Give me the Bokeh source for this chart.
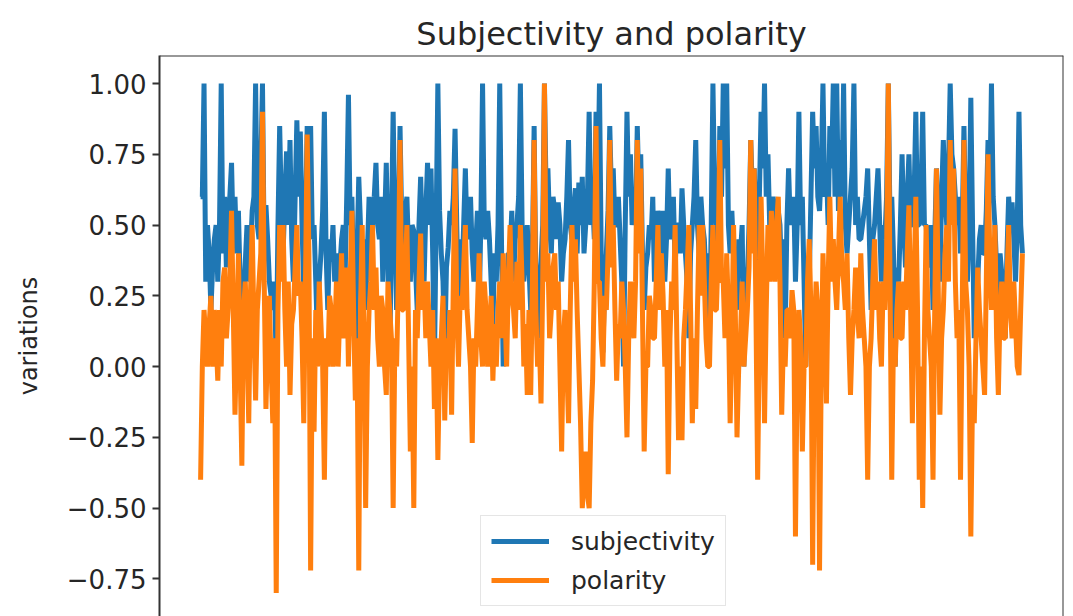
from bokeh.plotting import figure
from bokeh.models import (Range1d, FixedTicker, Legend, LegendItem, Span)
from bokeh.embed import file_html
from bokeh.resources import INLINE

title_text = "Subjectivity and polarity"
y_label = "variations"
series_names = ["subjectivity", "polarity"]
y_ticks = [-0.75, -0.5, -0.25, 0.0, 0.25, 0.5, 0.75, 1.0]
y_tick_labels = ["\u22120.75", "\u22120.50", "\u22120.25", "0.00", "0.25", "0.50", "0.75", "1.00"]

subjectivity = [
    0.6, 0.6, 1.0, 0.3, 0.5, 0.4, 0.2, 0.35, 0.45, 0.5, 0.3, 0.5, 1.0, 0.4, 0.6, 0.35, 0.5, 0.6, 0.72, 0.45,
    0.6, 0.4, 0.55, 0.3, 0.0, 0.25, 0.37, 0.5, 0.3, 0.4, 0.55, 0.6, 1.0, 0.5, 0.45, 0.7, 1.0, 0.4, 0.57, 0.45,
    0.3, 0.25, 0.2, 0.3, 0.0, 0.5, 0.85, 0.55, 0.4, 0.6, 0.76, 0.5, 0.8, 0.45, 0.3, 0.6, 0.87, 0.6, 0.83, 0.5,
    0.27, 0.5, 0.85, 0.6, 0.85, 0.45, 0.5, 0.3, 0.09, 0.3, 0.4, 0.55, 0.9, 0.4, 0.2, 0.45, 0.37, 0.5, 0.3, 0.4,
    0.1, 0.35, 0.45, 0.5, 0.3, 0.6, 0.96, 0.5, 0.6, 0.3, 0.0, 0.4,
    0.67, 0.5, 0.3, 0.45, 0.2, 0.4, 0.6, 0.45, 0.5, 0.6, 0.72, 0.5, 0.45, 0.6, 0.3, 0.5, 0.72, 0.4, 0.0, 0.5,
    0.9, 0.5, 0.2, 0.45, 0.85, 0.5, 0.4, 0.55, 0.6, 0.4, 0.3, 0.5, 0.48, 0.35, 0.2, 0.5, 0.67, 0.45, 0.3, 0.55,
    0.72, 0.5, 0.7, 0.4, 0.0, 0.5, 1.0, 0.55, 0.4, 0.3, 0.05, 0.35, 0.42, 0.55, 0.5, 0.6, 0.84, 0.5, 0.2, 0.45,
    0.3, 0.5, 0.7, 0.45, 0.5, 0.6, 0.4, 0.3, 0.42, 0.55, 0.2, 0.5, 1.0, 0.5, 0.45, 0.55, 0.45, 0.3, 0.15, 0.4,
    0.3, 0.5, 1.0, 0.45, 0.0, 0.3, 0.2, 0.4, 0.4, 0.55, 0.3, 0.45, 0.5, 0.6, 1.0, 0.5, 0.3, 0.4, 0.5, 0.35,
    0.2, 0.4, 0.85, 0.3, 0.1, 0.3, 0.37, 0.5, 1.0, 0.6, 0.7, 0.5, 0.4, 0.6, 0.55, 0.45, 0.58, 0.5, 0.3, 0.4,
    0.45, 0.6, 0.8, 0.5, 0.45, 0.55, 0.63, 0.4, 0.65, 0.5, 0.67, 0.4, 0.5, 0.6, 0.9, 0.5, 0.6, 0.45, 0.9, 0.6,
    1.0, 0.4, 0.05, 0.3, 0.4, 0.55, 0.85, 0.6, 0.7, 0.5, 0.5, 0.6, 0.45, 0.3, 0.0, 0.5, 0.9, 0.6, 0.75, 0.5,
    0.6, 0.5, 0.85, 0.6, 0.75, 0.4, 0.2, 0.35, 0.4, 0.5, 0.45, 0.6, 0.3, 0.45, 0.55, 0.5, 0.4, 0.55, 0.3, 0.45,
    0.7, 0.45, 0.5, 0.6, 0.35, 0.5, 0.5, 0.4, 0.63, 0.5, 0.4, 0.3, 0.1, 0.4, 0.5, 0.6,
    0.8, 0.5, 0.4, 0.6, 0.5, 0.45, 0.3, 0.4, 0.1, 0.5, 1.0, 0.6, 0.5, 0.4, 0.85, 0.6, 1.0, 0.7, 1.0, 0.5,
    0.4, 0.55, 0.4, 0.3, 0.2, 0.45, 0.4, 0.5, 0.0, 0.35, 0.3, 0.5, 0.8, 0.6, 0.7, 0.5, 0.3, 0.6, 0.9, 0.7,
    1.0, 0.6, 0.75, 0.5, 0.55, 0.6, 0.55, 0.45, 0.55, 0.5, 0.3, 0.45, 0.1, 0.5, 0.7, 0.5, 0.55, 0.6, 0.3, 0.5,
    0.9, 0.5, 0.6, 0.3, 0.0, 0.35, 0.3, 0.6, 0.9, 0.7, 0.85, 0.6, 0.55, 0.7, 1.0, 0.6, 0.7, 0.5, 0.85, 0.7,
    1.0, 0.6, 1.0, 0.55, 0.8, 0.6, 1.0, 0.5, 0.4, 0.5, 0.6, 0.7,
    1.0, 0.5, 0.6, 0.45, 0.45, 0.5, 0.55, 0.6, 0.7, 0.45, 0.2, 0.45, 0.5, 0.6, 0.7, 0.5, 0.3, 0.5, 0.45, 0.6,
    1.0, 0.5, 0.6, 0.4, 0.0, 0.35, 0.3, 0.5, 0.75, 0.5, 0.35, 0.6, 0.75, 0.5, 0.5, 0.6, 0.9, 0.5, 0.5, 0.6,
    0.9, 0.5, 0.5, 0.4, 0.35, 0.5, 0.2, 0.45, 0.7, 0.5, 0.3, 0.6, 0.8, 0.6, 0.5, 0.7, 1.0, 0.75, 0.7, 0.6,
    0.5, 0.6, 0.4, 0.5, 0.85, 0.5, 0.3, 0.5, 0.95, 0.5, 0.1, 0.3, 0.3, 0.45, 0.5, 0.4, 0.4, 0.55, 0.8, 0.6,
    1.0, 0.6, 0.5, 0.35, 0.2, 0.4, 0.33, 0.25, 0.1, 0.4, 0.6, 0.5, 0.58, 0.45, 0.3, 0.5, 0.9, 0.5, 0.4,
]

polarity = [
    -0.4, 0.0, 0.2, 0.1, 0.0, 0.15, 0.25, 0.0, 0.2, 0.1, -0.05, 0.2, 0.0, 0.3, 0.35, 0.1, 0.2, 0.3, 0.55, 0.2,
    -0.17, 0.1, 0.4, 0.0, -0.35, 0.2, 0.3, 0.1, -0.2, 0.25, 0.5, 0.15, -0.12, 0.2, 0.3, 0.4, 0.9, 0.3, -0.15, 0.1,
    0.25, 0.0, -0.2, 0.1, -0.8, 0.2, 0.5, 0.3, 0.5, 0.2, 0.0, 0.3, -0.1, 0.15, 0.2, 0.35, 0.5, 0.25, 0.3, 0.1,
    -0.2, 0.3, 0.82, 0.4, -0.72, 0.1, -0.23, 0.2, 0.0, 0.3, 0.15, 0.0, -0.4, 0.1, 0.0, 0.25, 0.2, 0.0, 0.1, 0.3,
    0.0, 0.2, 0.4, 0.1, 0.2, 0.35, 0.0, 0.3, 0.55, 0.2, -0.12, 0.1,
    -0.72, 0.2, 0.5, 0.1, -0.5, 0.0, 0.2, 0.3, 0.5, 0.2, 0.35, 0.1, 0.0, 0.25, 0.2, 0.0, -0.1, 0.3, 0.2, 0.1,
    -0.5, 0.1, 0.0, 0.3, 0.8, 0.2, 0.2, 0.35, 0.5, 0.1, -0.3, 0.0, -0.5, 0.2, 0.1, 0.3, 0.47, 0.2, 0.3, 0.1,
    0.3, 0.15, 0.0, 0.2, -0.15, 0.1, -0.33, 0.0, 0.1, 0.25, -0.19, 0.1, 0.0, 0.2, -0.17, 0.3, 0.7, 0.2, 0.0, 0.25,
    0.2, 0.35, 0.5, 0.2, 0.1, 0.0, -0.27, 0.1, 0.0, 0.2, 0.4, 0.1, 0.0, 0.3, 0.2, 0.0, 0.1, 0.25, -0.05, 0.15,
    0.0, 0.2, 0.3, 0.1, 0.4, 0.2, 0.0, 0.3, 0.5, 0.25, 0.2, 0.1, 0.37, 0.2, 0.5, 0.3, 0.0, 0.15, -0.1, 0.2,
    -0.1, 0.3, 0.8, 0.2, 0.0, 0.1, -0.13, 0.3, 1.0, 0.3, 0.4, 0.1, 0.2, 0.35, 0.4, 0.2, 0.3, 0.0, -0.3, 0.1,
    0.2, 0.0, -0.2, 0.2, 0.5, 0.3, 0.45, 0.2, 0.0, -0.2, -0.5, -0.4, -0.3, -0.45, -0.5, -0.2, -0.05, 0.3, 0.85, 0.3,
    0.3, 0.1, 0.0, 0.25, 0.2, 0.4, 0.8, 0.35, 0.5, 0.2, -0.05, 0.15, 0.1, 0.3, 0.2, 0.0, -0.25, 0.1, 0.3, 0.2,
    0.1, 0.3, 0.8, 0.4, 0.7, 0.2, -0.3, 0.0, 0.0, 0.25, 0.2, 0.1, 0.1, 0.3, 0.5, 0.2, 0.4, 0.25, 0.0, 0.2,
    -0.38, 0.1, 0.3, 0.2, 0.5, 0.1, -0.26, 0.0, -0.26, 0.1, 0.2, 0.35, 0.5, 0.2, -0.2, 0.1,
    -0.15, 0.2, 0.5, 0.25, 0.5, 0.3, 0.1, 0.0, 0.0, 0.3, 0.5, 0.2, 0.2, 0.4, 0.8, 0.3, 0.3, 0.1, 0.4, 0.2,
    -0.2, 0.1, 0.5, 0.2, -0.25, 0.0, 0.1, 0.3, 0.0, 0.1, 0.2, 0.35, 0.8, 0.4, 0.7, 0.2, -0.4, 0.1, 0.6, 0.3,
    -0.2, 0.2, 0.5, 0.3, 0.55, 0.4, 0.3, 0.5, 0.6, 0.3, -0.17, 0.1, 0.0, 0.2, 0.2, 0.1, 0.27, 0.2, -0.6, 0.0,
    0.2, 0.1, -0.3, 0.0, 0.0, 0.3, 0.45, 0.2, -0.7, 0.1, 0.3, 0.2, -0.72, 0.0, 0.4, 0.2, -0.13, 0.3, 0.6, 0.3,
    0.45, 0.3, 0.2, 0.4, 0.6, 0.35, 0.3, 0.2, 0.4, 0.1, -0.1, 0.1,
    0.2, 0.35, 0.2, 0.1, 0.4, 0.2, 0.1, 0.0, -0.4, 0.0, 0.1, 0.3, 0.45, 0.2, 0.3, 0.1, 0.0, 0.3, 0.2, 0.4,
    1.0, 0.3, -0.4, 0.1, 0.0, 0.2, 0.3, 0.1, 0.1, 0.3, 0.2, 0.4, 0.57, 0.2, -0.2, 0.3, 0.6, 0.2, -0.4, 0.0,
    -0.5, 0.1, 0.5, 0.2, 0.1, 0.0, -0.4, 0.2, 0.7, 0.3, -0.17, 0.1, 0.2, 0.4, 0.5, 0.3, 0.8, 0.5, 0.7, 0.3,
    0.1, 0.2, -0.4, 0.2, 0.8, 0.3, 0.2, 0.0, -0.6, -0.1, -0.2, 0.1, 0.35, 0.2, 0.1, 0.0, -0.1, 0.3, 0.75, 0.4,
    0.2, 0.3, 0.5, 0.1, -0.1, 0.2, 0.3, 0.1, 0.1, 0.3, 0.5, 0.2, 0.1, 0.3, 0.15, 0.0, -0.03, 0.2, 0.4,
]

n = min(len(subjectivity), len(polarity))
subjectivity = subjectivity[:n]
polarity = polarity[:n]
idx = list(range(n))
span = n - 1

FONT = "DejaVu Sans"
TEXT = "#262626"

p = figure(
    frame_width=904, frame_height=561,
    output_backend="svg", toolbar_location=None,
    x_range=Range1d(-0.05 * span, span * 1.05),
    y_range=Range1d(-0.883, 1.099),
    min_border_left=159, min_border_right=2, min_border_top=55, min_border_bottom=0,
    title=title_text,
)
p.background_fill_color = "white"
p.border_fill_color = "white"
p.outline_line_color = None
p.grid.visible = False
p.xaxis.visible = False

p.title.text_font = FONT
p.title.text_font_size = "32px"
p.title.text_font_style = "normal"
p.title.text_color = TEXT
p.title.align = "center"
p.title.standoff = 6

ya = p.yaxis[0]
ya.ticker = FixedTicker(ticks=y_ticks)
ya.major_label_overrides = {t: s for t, s in zip(y_ticks, y_tick_labels)}
ya.major_label_text_font = FONT
ya.major_label_text_font_size = "26px"
ya.major_label_text_color = TEXT
ya.major_label_standoff = 6
ya.major_tick_out = 7
ya.major_tick_in = 0
ya.minor_tick_line_color = None
ya.major_tick_line_color = "#333333"
ya.major_tick_line_width = 2
ya.axis_line_color = "#333333"
ya.axis_line_width = 2
ya.axis_label = y_label
ya.axis_label_text_font = FONT
ya.axis_label_text_font_size = "24px"
ya.axis_label_text_font_style = "normal"
ya.axis_label_text_color = TEXT
ya.axis_label_standoff = 21

p.add_layout(Span(location=1.099, dimension="width", line_color="#333333", line_width=2))
p.add_layout(Span(location=span * 1.05, dimension="height", line_color="#333333", line_width=2))

r1 = p.line(idx, subjectivity, line_color="#1f77b4", line_width=5)
r2 = p.line(idx, polarity, line_color="#ff7f0e", line_width=5)

legend = Legend(
    items=[LegendItem(label=series_names[0], renderers=[r1]),
           LegendItem(label=series_names[1], renderers=[r2])],
    location=(321, 10),
    margin=0, padding=10, spacing=9,
    glyph_width=58, glyph_height=30, label_height=30, label_standoff=22,
    label_text_font=FONT, label_text_font_size="25px", label_text_color=TEXT,
    border_line_color="#cccccc", border_line_width=1.5,
    background_fill_color="white", background_fill_alpha=0.8,
)
p.add_layout(legend, "center")

open("out.html", "w").write(file_html(p, INLINE))
